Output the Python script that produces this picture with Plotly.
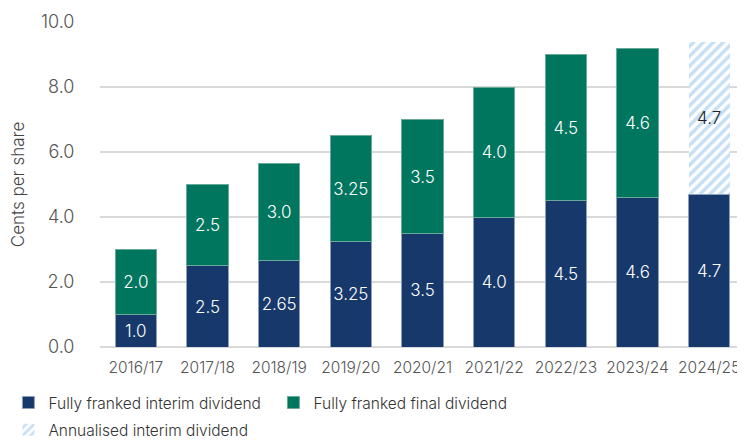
import plotly.graph_objects as go

years = ["2016/17", "2017/18", "2018/19", "2019/20", "2020/21", "2021/22", "2022/23", "2023/24", "2024/25"]
interim = [1.0, 2.5, 2.65, 3.25, 3.5, 4.0, 4.5, 4.6, 4.7]
final = [2.0, 2.5, 3.0, 3.25, 3.5, 4.0, 4.5, 4.6, None]
annualised = [None, None, None, None, None, None, None, None, 4.7]
y_ticks = [0, 2, 4, 6, 8, 10]


def fmt(v):
    if v is None:
        return ""
    s = f"{v:.2f}"
    return s if not s.endswith("0") else f"{v:.1f}"


FONT = "Inter"
W = 300
NAVY = "#17386a"
GREEN = "#00765f"
HATCH = "#8ec0ea"
BAR_TXT = 18

fig = go.Figure()
fig.add_trace(go.Bar(
    x=years, y=interim, name="Fully franked interim dividend",
    marker=dict(color=NAVY, line=dict(color="#8d9fbd", width=1)),
    text=[fmt(v) for v in interim], textposition="inside", insidetextanchor="middle", textangle=0,
    textfont=dict(color="white", size=BAR_TXT, family=FONT, weight=W), width=0.575,
    legend="legend",
))
fig.add_trace(go.Bar(
    x=years, y=final, name="Fully franked final dividend",
    marker=dict(color=GREEN, line=dict(color="#6aa99a", width=1)),
    text=[fmt(v) for v in final], textposition="inside", insidetextanchor="middle", textangle=0,
    textfont=dict(color="white", size=BAR_TXT, family=FONT, weight=W), width=0.575,
    legend="legend",
))
fig.add_trace(go.Bar(
    x=years, y=annualised, name="Annualised interim dividend",
    marker=dict(color="white", line=dict(width=0),
                pattern=dict(shape="/", fgcolor=HATCH, bgcolor="white", size=7, solidity=0.5)),
    text=[fmt(v) for v in annualised], textposition="inside", insidetextanchor="middle", textangle=0,
    textfont=dict(color="#222222", size=BAR_TXT, family=FONT, weight=W), width=0.575,
    legend="legend2",
))

legend_common = dict(orientation="h", xanchor="left", yanchor="middle",
                     entrywidth=220, entrywidthmode="pixels", traceorder="normal",
                     font=dict(size=15.5, color="#333333", family=FONT, weight=W),
                     itemwidth=30, bgcolor="rgba(0,0,0,0)")

fig.update_layout(
    barmode="stack",
    width=737, height=433,
    margin=dict(l=92, r=0, t=14, b=94, autoexpand=False),
    plot_bgcolor="white", paper_bgcolor="white",
    font=dict(family=FONT, color="#555555", size=15, weight=W),
    uniformtext=dict(minsize=10, mode="show"),
    showlegend=True,
    legend=dict(x=-0.142, y=-0.172, **legend_common),
    legend2=dict(x=-0.142, y=-0.256, **legend_common),
    xaxis=dict(showgrid=False, ticks="outside", ticklen=6, tickcolor="rgba(0,0,0,0)",
               tickfont=dict(size=15.5, color="#555555"),
               showline=False, automargin=False),
    yaxis=dict(range=[0, 10], tickvals=y_ticks, tickformat=".1f", automargin=False,
               showgrid=True, gridcolor="#d9d9d9", gridwidth=2,
               zeroline=True, zerolinecolor="#d9d9d9", zerolinewidth=2,
               tickfont=dict(size=18, color="#555555"), ticklen=21, ticks="outside",
               tickcolor="rgba(0,0,0,0)",
               title=dict(text="Cents per share", font=dict(size=17, color="#444444"), standoff=11)),
    bargap=0.425,
)

fig.write_html("out.html")
